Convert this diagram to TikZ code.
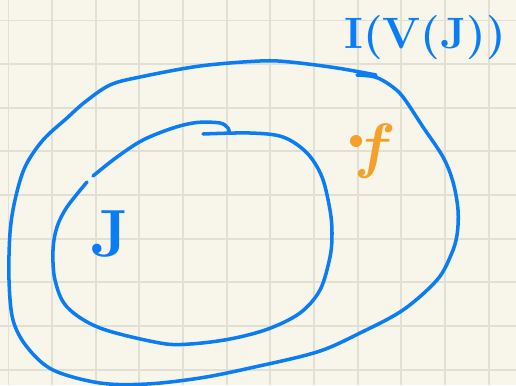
\documentclass[tikz,border=0pt]{standalone}
\usepackage{tikz}
\usepackage{bm}
\definecolor{paper}{RGB}{248,245,234}
\definecolor{gridline}{RGB}{226,223,211}
\definecolor{inkblue}{RGB}{10,125,245}
\definecolor{inkorange}{RGB}{245,160,40}

\begin{document}
\begin{tikzpicture}[x=0.02cm, y=-0.02cm,
  grid line/.style={draw=gridline, line width=1.1pt},
  pen/.style={draw=inkblue, line width=2pt, line cap=round, line join=round},
  ink/.style={text=inkblue, inner sep=0pt}]
  \fill[paper] (0,0) rectangle (516,385);
  \useasboundingbox (0,0) rectangle (516,385);
  \foreach \k in {0,...,11}
    \draw[grid line] ({8.5+43.65*\k},0) -- ({8.5+43.65*\k},385);
  \foreach \k in {0,...,8}
    \draw[grid line] (0,{20.5+43.65*\k}) -- (516,{20.5+43.65*\k});
  % outer set I(V(J))
  \draw[pen] plot[smooth, tension=0.55] coordinates {(357,75) (375,77) (390,85)
    (403,97) (423,127) (443,157) (453,182) (458,210) (457,235) (451,255)
    (437,280) (403,310) (360,333) (317,352) (250,368) (200,378) (147,384)
    (100,383) (53,370) (27,347) (13,320) (9,280) (10,233) (15,200) (25,167)
    (43,140) (67,118) (85,102) (110,85) (140,77) (200,66) (260,61) (290,62)
    (337,68) (376,75)};
  % inner set J
  \draw[pen] plot[smooth, tension=0.55] coordinates {(203,134) (250,133)
    (283,137) (307,153) (322,177) (330,210) (332,233) (330,257) (320,290)
    (300,313) (268,329) (230,339) (190,344) (160,343) (100,328) (67,307)
    (55,280) (53,250) (57,227) (67,207) (87,182)};
  \draw[pen] plot[smooth, tension=0.55] coordinates {(93,176) (117,157)
    (143,140) (173,128) (197,122.5) (220,123) (228,128) (229,132)};
  % labels
  \node[ink, font=\bfseries\fontsize{25}{25}\selectfont] (ivj) at (425,38)
    {\scalebox{1.02}[1]{I(V(J))}};
  \node[ink, font=\bfseries\fontsize{38}{38}\selectfont] (jlab) at (110,234) {J};
  \fill[inkorange] (356,141) circle (6);
  \node[inner sep=0pt, text=inkorange, font=\fontsize{24.88}{25}\selectfont]
    (flab) at (375,151) {\scalebox{1.4}{$\bm{f}$}};
\end{tikzpicture}
\end{document}
